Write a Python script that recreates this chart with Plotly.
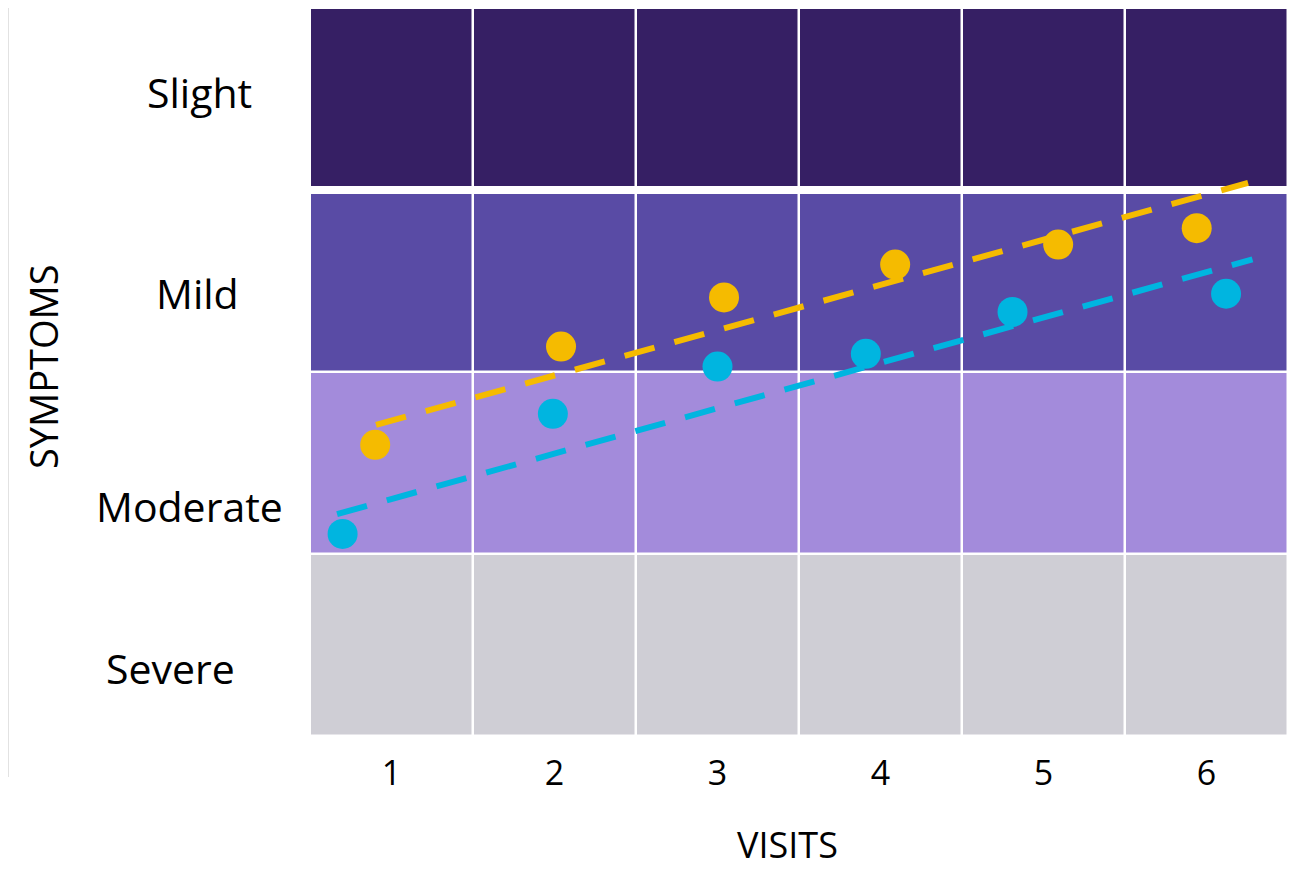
import plotly.graph_objects as go

# ---------------- data ----------------
visits = [1, 2, 3, 4, 5, 6]
visit_labels = ["1", "2", "3", "4", "5", "6"]
levels = ["Severe", "Moderate", "Mild", "Slight"]          # bottom -> top
level_values = [0, 1, 2, 3]

# observed points (visit position, symptom score)
yellow_x = [0.90, 2.04, 3.04, 4.09, 5.09, 5.94]
yellow_y = [1.10, 1.64, 1.91, 2.09, 2.20, 2.29]
cyan_x = [0.70, 1.99, 3.00, 3.91, 4.81, 6.12]
cyan_y = [0.61, 1.27, 1.53, 1.60, 1.83, 1.93]

# trend lines (start / end)
yellow_trend_x = [0.905, 6.255]
yellow_trend_y = [1.209, 2.539]
cyan_trend_x = [0.666, 6.282]
cyan_trend_y = [0.719, 2.119]

# ---------------- styles ----------------
level_colors = ["#CFCED5", "#A38BDB", "#594BA5", "#361F64"]
YELLOW = "#F5BB00"
CYAN = "#00B5E0"
FONT = "Open Sans"

# label placement (paper coords) for the level names
label_pos = {"Slight": (-0.1125, 0.884), "Mild": (-0.1155, 0.609),
             "Moderate": (-0.1227, 0.316), "Severe": (-0.1427, 0.094)}

fig = go.Figure()

z = [[lv for _ in visits] for lv in level_values]
n = len(level_values) - 1
colorscale = [[i / n, c] for i, c in enumerate(level_colors)]
fig.add_trace(go.Heatmap(
    x=visits, y=level_values, z=z, zmin=0, zmax=n,
    colorscale=colorscale, showscale=False, xgap=2.5, ygap=2.5,
    hoverinfo="skip"))

# wider separator between Mild and Slight
sep_y = (level_values[2] + level_values[3]) / 2
fig.add_trace(go.Scatter(
    x=[visits[0] - 0.5, visits[-1] + 0.5], y=[sep_y, sep_y], mode="lines",
    line=dict(color="white", width=8), hoverinfo="skip", showlegend=False))

fig.add_trace(go.Scatter(
    x=yellow_trend_x, y=yellow_trend_y, mode="lines",
    line=dict(color=YELLOW, width=6, dash="31px,20.6px"), showlegend=False))
fig.add_trace(go.Scatter(
    x=cyan_trend_x, y=cyan_trend_y, mode="lines",
    line=dict(color=CYAN, width=6, dash="31px,20.6px"), showlegend=False))
fig.add_trace(go.Scatter(
    x=yellow_x, y=yellow_y, mode="markers",
    marker=dict(color=YELLOW, size=30, line=dict(width=0)), showlegend=False))
fig.add_trace(go.Scatter(
    x=cyan_x, y=cyan_y, mode="markers",
    marker=dict(color=CYAN, size=30, line=dict(width=0)), showlegend=False))

annotations = []
for name in levels:
    px_, py_ = label_pos[name]
    annotations.append(dict(text=name, xref="paper", yref="paper", x=px_, y=py_,
                            xanchor="center", yanchor="middle", showarrow=False,
                            font=dict(family=FONT, size=41, color="black")))
annotations.append(dict(text="VISITS", xref="paper", yref="paper",
                        x=(787 - 310) / 978, y=(736 - 845) / 728,
                        xanchor="center", yanchor="middle", showarrow=False,
                        font=dict(family=FONT, size=36, color="black")))
annotations.append(dict(text="SYMPTOMS", xref="paper", yref="paper",
                        x=(43 - 310) / 978, y=(736 - 367) / 728, textangle=-90,
                        xanchor="center", yanchor="middle", showarrow=False,
                        font=dict(family=FONT, size=38, color="black")))

# the page body adds an 8px offset, so the figure is 16px smaller and margins shifted
fig.update_layout(
    width=1291, height=863,
    margin=dict(l=302, r=11, t=0, b=135),
    paper_bgcolor="white", plot_bgcolor="white",
    showlegend=False,
    annotations=annotations,
    shapes=[dict(type="line", xref="paper", yref="paper",
                 x0=(8 - 310) / 978, x1=(8 - 310) / 978,
                 y0=1.0, y1=(736 - 777) / 728,
                 line=dict(color="#D9D9D9", width=1.5))],
    xaxis=dict(range=[0.5, 6.5], tickvals=visits, ticktext=visit_labels,
               showgrid=False, zeroline=False, showline=False, ticks="",
               ticklabelstandoff=14,
               tickfont=dict(family=FONT, size=34, color="black")),
    yaxis=dict(range=[-0.5, 3.5], showticklabels=False, showgrid=False,
               zeroline=False, showline=False, ticks=""),
)

fig.write_html("out.html")
